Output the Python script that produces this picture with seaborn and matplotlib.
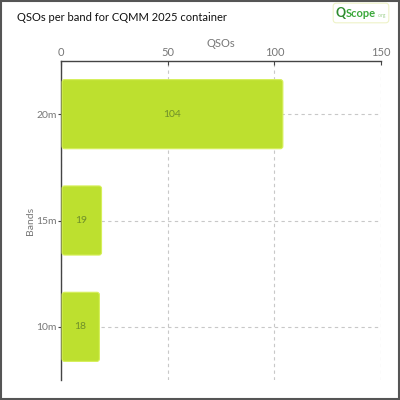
import matplotlib
matplotlib.use("Agg")
import matplotlib.pyplot as plt
import seaborn as sns
import pandas as pd
from matplotlib.patches import FancyBboxPatch, Rectangle

bands = ["20m", "15m", "10m"]
qsos = [104, 19, 18]
title = "QSOs per band for CQMM 2025 container"
xticks = [0, 50, 100, 150]

sns.set_theme(style="white")
plt.rcParams['font.family'] = ['Lato', 'DejaVu Sans']

df = pd.DataFrame({"Bands": bands, "QSOs": qsos})

fig = plt.figure(figsize=(4, 4), dpi=100)
ax = fig.add_axes([0.1525, 0.05, 0.8, 0.7975])

bar_color = "#bde02f"
sns.barplot(data=df, x="QSOs", y="Bands", orient="h", color=bar_color,
            width=0.65, saturation=1, ax=ax, zorder=3)

# rounded bars
for p in list(ax.patches):
    x, y = p.get_x(), p.get_y()
    w, h = p.get_width(), p.get_height()
    p.set_visible(False)
    fb = FancyBboxPatch((x + 0.5, y), w - 0.5, h,
                        boxstyle="round,pad=0,rounding_size=1.2",
                        mutation_aspect=0.02,
                        facecolor=bar_color, edgecolor="#d6ef5a",
                        linewidth=0.8, zorder=3)
    ax.add_patch(fb)

for i, v in enumerate(qsos):
    ax.text(v / 2, i, str(v), ha="center", va="center", fontsize=7.5,
            color="#6f8f2a", zorder=4)

ax.set_xlim(0, 150)
ax.set_xticks(xticks)
ax.xaxis.tick_top()
ax.xaxis.set_label_position("top")
ax.set_xlabel("QSOs", fontsize=8, color="#777777", labelpad=0)
ax.set_ylabel("Bands", fontsize=7.5, color="#777777", labelpad=1)

ax.tick_params(axis="x", top=True, bottom=False, direction="in", length=3, width=0.8,
               color="#444444", labelsize=8, labelcolor="#777777", pad=2)
ax.tick_params(axis="y", left=True, length=2.5, width=0.8,
               color="#444444", labelsize=7.5, labelcolor="#777777", pad=0.5)

ax.grid(True, axis="both", linestyle=(0, (3, 3)), color="#c8c8c8",
        linewidth=0.8, zorder=0)
ax.set_axisbelow(True)

for s in ["right", "bottom"]:
    ax.spines[s].set_visible(False)
for s in ["left", "top"]:
    ax.spines[s].set_color("#444444")
    ax.spines[s].set_linewidth(1.0)

fig.text(0.042, 0.957, title, fontsize=8, color="#111111", va="center", ha="left")

# logo as text
fig.patches.append(FancyBboxPatch((0.835, 0.945), 0.135, 0.045,
                                  boxstyle="round,pad=0.002,rounding_size=0.008",
                                  transform=fig.transFigure, facecolor="white",
                                  edgecolor="#eef3c8", linewidth=0.8))
fig.text(0.838, 0.967, "Q", fontsize=9, fontweight="bold", color="#2e8b2e",
         va="center", ha="left")
fig.text(0.864, 0.967, "Scope", fontsize=8, fontweight="bold", color="#3aa83a",
         va="center", ha="left")
fig.text(0.945, 0.960, ".org", fontsize=3.5, color="#9ccf8c", va="center", ha="left")

# figure border
fig.patches.append(Rectangle((0.002, 0.002), 0.996, 0.996, transform=fig.transFigure,
                             fill=False, edgecolor="#555555", linewidth=1.5))

fig.savefig("out.png", dpi=100)
